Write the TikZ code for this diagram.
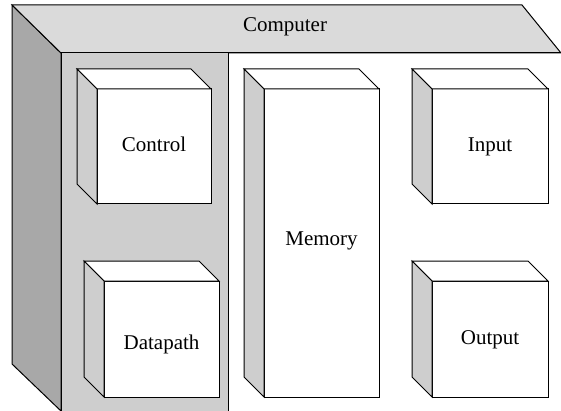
\documentclass[tikz,border=0pt]{standalone}
\usepackage{fontspec}
\setmainfont{Liberation Serif}
\usetikzlibrary{calc}
\definecolor{topgray}{HTML}{DADADA}
\definecolor{leftgray}{HTML}{A8A8A8}
\definecolor{panelgray}{HTML}{CECECE}
\begin{document}
\begin{tikzpicture}[x=1pt,y=-1pt,line width=1pt,
    unit/.style={rectangle,draw,fill=white,outer sep=0pt,inner sep=0pt,text height=14pt,text depth=3pt,font=\fontsize{21}{25}\selectfont}]
    \useasboundingbox (0,0) rectangle (561,411);
    \filldraw[fill=leftgray] (12,5) -- (61,53) -- (61,411) -- (12,364) -- cycle;
    \filldraw[fill=topgray] (12,5) -- (522,5) -- (561,53) -- (61,53) -- cycle;
    \fill[panelgray] (61,53) rectangle (228,411);
    \draw (61,411) -- (61,53) -- (561,53);
    \draw (228,53) -- (228,411);
    \node [anchor=base, font=\fontsize{21}{25}\selectfont] (computer) at (285,32) {Computer};
    \node [unit, minimum width=114pt, minimum height=115pt] (control) at (154,146.5) {Control};
    \node [unit, minimum width=115pt, minimum height=116pt, text height=20pt, text depth=0pt] (datapath) at (161.5,339) {Datapath};
    \node [unit, minimum width=115pt, minimum height=308pt, text depth=8pt] (memory) at (321.5,243) {Memory};
    \node [unit, minimum width=116pt, minimum height=115pt] (input) at (490,146.5) {Input};
    \node [unit, minimum width=116pt, minimum height=116pt] (output) at (490,339) {Output};
    \foreach \n in {control,datapath,memory,input,output} {
        \filldraw[fill=white] (\n.north west) -- ++(-20,-20) -- ($(\n.north east)+(-20,-20)$) -- (\n.north east) -- cycle;
        \filldraw[fill=panelgray] (\n.north west) -- ++(-20,-20) -- ($(\n.south west)+(-20,-20)$) -- (\n.south west) -- cycle;
    }
\end{tikzpicture}
\end{document}
